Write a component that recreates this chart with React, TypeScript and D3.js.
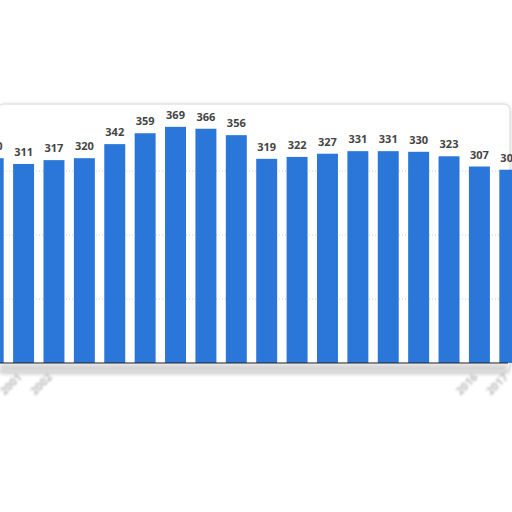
import { useMemo } from 'react';
import { scaleBand, scaleLinear } from 'd3';

// one bar per year, the first and last sit partly outside the frame
const years = [
  '2000', '2001', '2002', '2003', '2004', '2005', '2006', '2007', '2008',
  '2009', '2010', '2011', '2012', '2013', '2014', '2015', '2016', '2017',
];
const values = [320, 311, 317, 320, 342, 359, 369, 366, 356, 319, 322, 327, 331, 331, 330, 323, 307, 302];
const gridValues = [100, 200, 300];
const shownYearLabels = ['2001', '2002', '2016', '2017'];

const width = 512;
const height = 512;
const plotTop = 107;
const plotBottom = 363;

const App = () => {
  const x = useMemo(
    () => scaleBand<string>().domain(years).range([-22, 525]).paddingInner(0.31).paddingOuter(0.155),
    [],
  );
  const y = useMemo(() => scaleLinear().domain([0, 400]).range([plotBottom, plotTop]), []);

  return (
    <div style={{ position: 'fixed', left: 0, top: 0, width, height, overflow: 'hidden', background: '#fff' }}>
      <svg width={width} height={height} style={{ display: 'block' }}>
        <defs>
          <filter id="shadow" x="-5%" y="-5%" width="110%" height="115%">
            <feDropShadow dx="0" dy="1" stdDeviation="2" floodColor="#000" floodOpacity="0.18" />
          </filter>
          <filter id="blur">
            <feGaussianBlur stdDeviation="0.9" />
          </filter>
          <filter id="soft" x="-5%" y="-50%" width="110%" height="200%">
            <feGaussianBlur stdDeviation="2" />
          </filter>
        </defs>

        <rect x={-2} y={104} width={512} height={268} rx={6} fill="#fff" stroke="#d6d6d6" filter="url(#shadow)" />
        <rect x={0} y={plotBottom + 1} width={508} height={9} fill="#d4d4d4" filter="url(#soft)" />

        {gridValues.map((v) => (
          <line
            key={v}
            x1={0}
            x2={508}
            y1={y(v)}
            y2={y(v)}
            stroke="#cfcfcf"
            strokeWidth={1}
            strokeDasharray="1,2"
          />
        ))}

        {years.map((yr, i) => (
          <rect
            key={yr}
            x={x(yr)}
            y={y(values[i])}
            width={x.bandwidth()}
            height={plotBottom - y(values[i])}
            fill="#2a77d9"
          />
        ))}

        {years.map((yr, i) => (
          <text
            key={yr}
            x={(x(yr) as number) + x.bandwidth() / 2}
            y={y(values[i]) - 8}
            textAnchor="middle"
            fontFamily="'Open Sans', Roboto, sans-serif"
            fontWeight="bold"
            fontSize={11}
            fill="#444"
          >
            {values[i]}
          </text>
        ))}

        <line x1={0} x2={508} y1={plotBottom} y2={plotBottom} stroke="#222" strokeWidth={1} />

        {shownYearLabels.map((yr) => (
          <text
            key={yr}
            transform={`translate(${(x(yr) as number) + x.bandwidth() / 2 - 1},${plotBottom + 15}) rotate(-45)`}
            textAnchor="end"
            fontFamily="'Open Sans', Roboto, sans-serif"
            fontWeight="bold"
            fontSize={11}
            fill="#bbb"
            filter="url(#blur)"
          >
            {yr}
          </text>
        ))}
      </svg>
    </div>
  );
};

export default App;
